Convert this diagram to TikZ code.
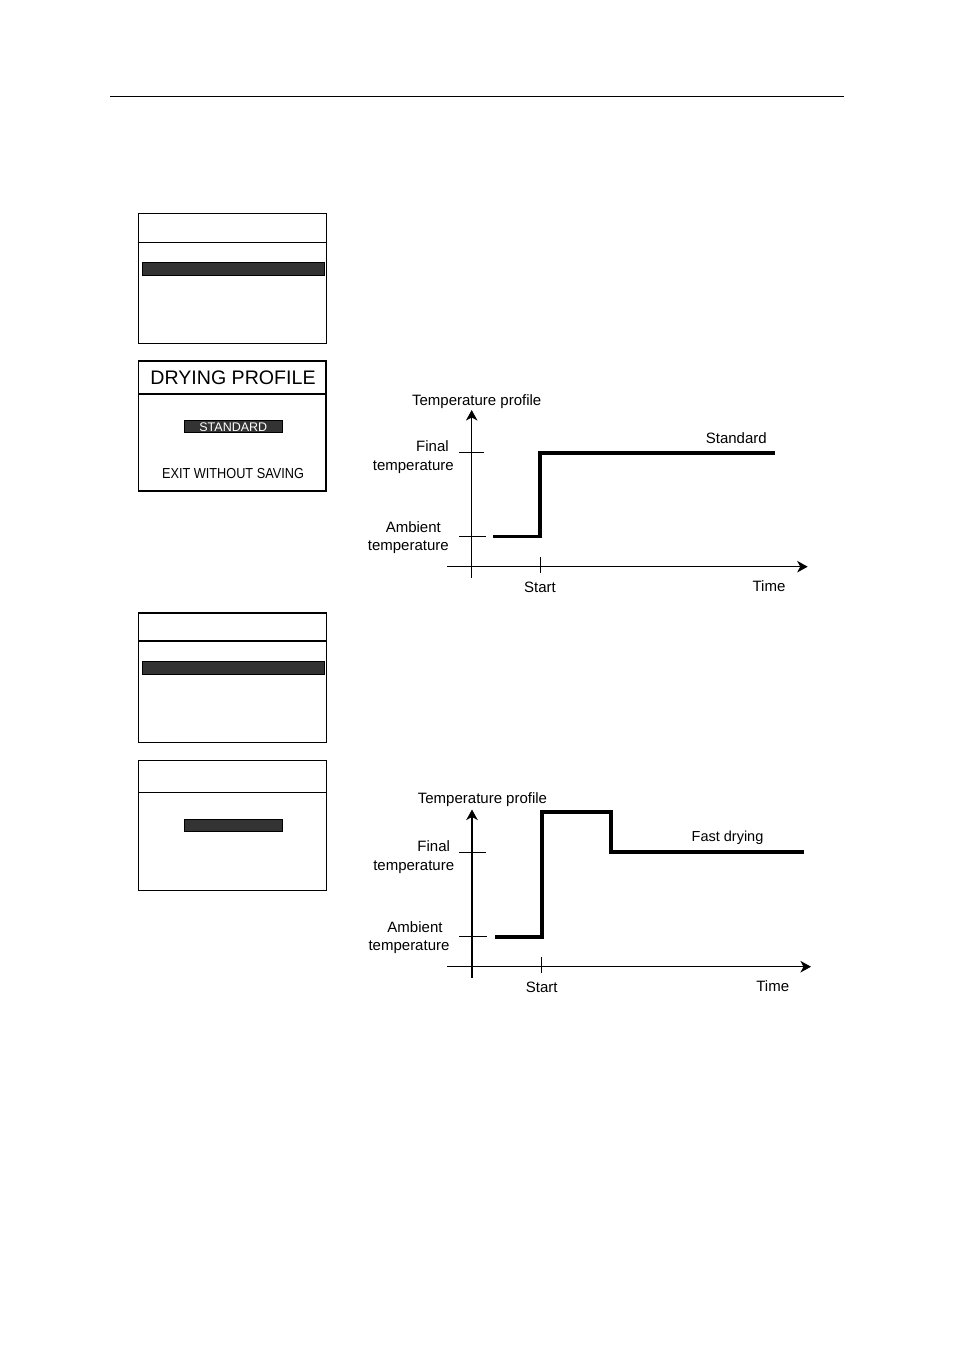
\documentclass[tikz,border=0pt]{standalone}
\usepackage{fontspec}
\usepackage{graphicx}
\setmainfont{Liberation Sans}
\usetikzlibrary{arrows.meta}
\definecolor{barfill}{RGB}{51,51,51}
\begin{document}
\begin{tikzpicture}[x=1pt,y=-1pt,
  screen/.style={draw, line width=1.3pt, inner sep=0pt, outer sep=0pt},
  barbox/.style={draw, fill=barfill, line width=0.9pt, inner sep=0pt, outer sep=0pt},
  axisline/.style={line width=1.4pt, -{Stealth[length=10.5pt,width=11.5pt,inset=3pt]}},
  tickline/.style={line width=0.9pt},
  profile/.style={line width=3.8pt, line join=miter},
  lbl/.style={anchor=base, inner sep=0pt, font=\fontsize{15}{18}\selectfont},
]
\useasboundingbox (0,0) rectangle (954,1350);
% top rule
\coordinate (r1) at (110,96);
\coordinate (r2) at (844,96);
\draw[line width=1pt] (r1) -- (r2);

% ---- screen 1
\node[screen, minimum width=188.2pt, minimum height=130pt] (s1) at (232.4,278.3) {};
\draw[line width=1.2pt] ([yshift=-29pt]s1.north west) -- ([yshift=-29pt]s1.north east);
\node[barbox, minimum width=182pt, minimum height=13.4pt] (b1) at (233.3,269) {};

% ---- screen 2
\node[screen, minimum width=187.7pt, minimum height=130pt] (s2) at (232.2,426) {};
\draw[line width=1.1pt] ([yshift=-33pt]s2.north west) -- ([yshift=-33pt]s2.north east);
\node[barbox, minimum width=98.7pt, minimum height=12.7pt] (b2) at (233.3,426.3) {};
\node[anchor=base, inner sep=0pt, font=\fontsize{19.6}{22}\selectfont] (t2) at (233,384.3) {DRYING PROFILE};
\node[anchor=base, inner sep=0pt, text=white, font=\fontsize{12.5}{14}\selectfont] (t2b) at (233.3,431) {STANDARD};
\node[anchor=base, inner sep=0pt, font=\fontsize{14.5}{16}\selectfont] (t2c) at (233,478.3) {\scalebox{0.877}[1]{EXIT WITHOUT SAVING}};

% ---- screen 3
\node[screen, minimum width=188.4pt, minimum height=129.3pt] (s3) at (232.5,677.7) {};
\draw[line width=1.2pt] ([yshift=-28pt]s3.north west) -- ([yshift=-28pt]s3.north east);
\node[barbox, minimum width=182pt, minimum height=13.7pt] (b3) at (233.3,667.8) {};

% ---- screen 4
\node[screen, line width=1.1pt, minimum width=187.7pt, minimum height=129.7pt] (s4) at (232.2,825.2) {};
\draw[line width=1.1pt] ([yshift=-32pt]s4.north west) -- ([yshift=-32pt]s4.north east);
\node[barbox, minimum width=98.7pt, minimum height=12.7pt] (b4) at (233.3,825.3) {};

% ---- graph 1
\coordinate (g1xl) at (447.3,566.7);
\coordinate (g1xr) at (807.7,566.7);
\coordinate (g1yb) at (471.7,577.7);
\coordinate (g1yt) at (471.7,410);
\draw[axisline, line width=1.2pt] (g1yb) -- (g1yt);
\draw[axisline] (g1xl) -- (g1xr);
\coordinate (g1s1) at (540.3,557.3);
\coordinate (g1s2) at (540.3,573.3);
\draw[tickline, line width=1.2pt] (g1s1) -- (g1s2);
\coordinate (g1f1) at (459,452.3);
\coordinate (g1f2) at (484.3,452.3);
\draw[tickline] (g1f1) -- (g1f2);
\coordinate (g1a1) at (459,536.7);
\coordinate (g1a2) at (486,536.7);
\draw[tickline] (g1a1) -- (g1a2);
\coordinate (g1p1) at (493.3,536.5);
\coordinate (g1p2) at (540.3,536.5);
\coordinate (g1p3) at (540.3,453);
\coordinate (g1p4) at (775,453);
\draw[profile] (g1p1) -- (g1p2) -- (g1p3) -- (g1p4);
\node[lbl] (g1tp) at (476.7,405.7) {Temperature profile};
\node[lbl] (g1std) at (736.3,443.7) {Standard};
\node[lbl] (g1fin) at (432.5,451.7) {Final};
\node[lbl] (g1fint) at (413.3,470) {temperature};
\node[lbl] (g1amb) at (413.3,532.3) {Ambient};
\node[lbl] (g1ambt) at (408.3,550.7) {temperature};
\node[lbl] (g1start) at (540,592.3) {Start};
\node[lbl] (g1time) at (769,591.7) {Time};

% ---- graph 2
\coordinate (g2xl) at (447.3,966.7);
\coordinate (g2xr) at (811,966.7);
\coordinate (g2yb) at (472,977.7);
\coordinate (g2yt) at (472,809.5);
\draw[axisline, line width=1.5pt] (g2yb) -- (g2yt);
\draw[axisline, line width=1.5pt] (g2xl) -- (g2xr);
\coordinate (g2s1) at (541.7,957);
\coordinate (g2s2) at (541.7,973);
\draw[tickline, line width=1.3pt] (g2s1) -- (g2s2);
\coordinate (g2f1) at (459,852.3);
\coordinate (g2f2) at (486,852.3);
\draw[tickline, line width=1.3pt] (g2f1) -- (g2f2);
\coordinate (g2a1) at (459,936.7);
\coordinate (g2a2) at (486.7,936.7);
\draw[tickline] (g2a1) -- (g2a2);
\coordinate (g2p1) at (495,936.7);
\coordinate (g2p2) at (542,936.7);
\coordinate (g2p3) at (542,811.7);
\coordinate (g2p4) at (611,811.7);
\coordinate (g2p5) at (611,852.3);
\coordinate (g2p6) at (804.3,852.3);
\draw[profile] (g2p1) -- (g2p2) -- (g2p3) -- (g2p4) -- (g2p5) -- (g2p6);
\node[lbl] (g2tp) at (482.5,803.8) {Temperature profile};
\node[lbl, font=\fontsize{14.5}{17}\selectfont] (g2fd) at (727.5,841) {Fast drying};
\node[lbl] (g2fin) at (433.7,851.7) {Final};
\node[lbl] (g2fint) at (413.7,870) {temperature};
\node[lbl] (g2amb) at (415,932.3) {Ambient};
\node[lbl] (g2ambt) at (409,950.7) {temperature};
\node[lbl] (g2start) at (541.7,992.3) {Start};
\node[lbl] (g2time) at (772.7,991.7) {Time};
\end{tikzpicture}
\end{document}
